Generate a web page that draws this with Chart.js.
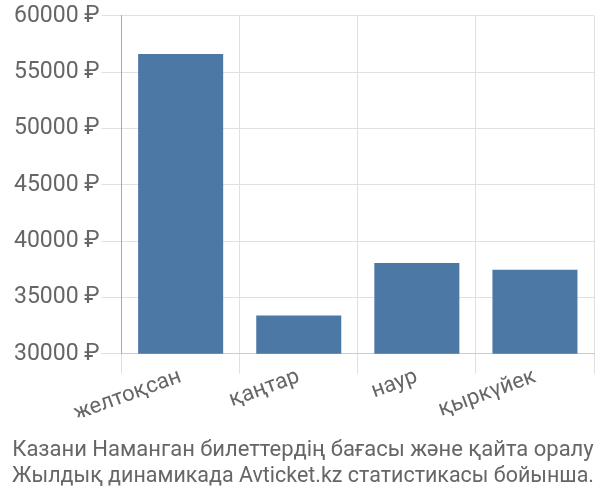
<!DOCTYPE html>
<html>
<head>
<meta charset="utf-8">
<script src="https://cdn.jsdelivr.net/npm/chart.js@4"></script>
<style>
  html, body { margin: 0; padding: 0; background: #fff; }
  #wrap { width: 600px; height: 500px; }
</style>
</head>
<body>
<div id="wrap"><canvas id="priceChart"></canvas></div>
<script>
  const months = ['желтоқсан', 'қаңтар', 'наур', 'қыркүйек'];
  const prices = [56600, 33400, 38050, 37450];
  const titleLines = [
    'Казани Наманган билеттердің бағасы және қайта оралу',
    'Жылдық динамикада Avticket.kz статистикасы бойынша.'
  ];

  const textColor = '#666';
  const gridColor = '#e0e0e0';
  Chart.defaults.font.family = "Roboto, 'Liberation Sans', sans-serif";
  Chart.defaults.font.size = 22;
  Chart.defaults.color = textColor;

  new Chart(document.getElementById('priceChart'), {
    type: 'bar',
    data: {
      labels: months,
      datasets: [{
        data: prices,
        backgroundColor: '#4c78a6',
        borderWidth: 0
      }]
    },
    options: {
      responsive: true,
      maintainAspectRatio: false,
      animation: false,
      layout: { padding: { left: 12, right: 6, top: 2, bottom: 0 } },
      plugins: {
        legend: { display: false },
        tooltip: { enabled: false },
        title: {
          display: true,
          position: 'bottom',
          text: titleLines,
          color: textColor,
          font: { size: 22, weight: 'normal' },
          lineHeight: 1.36,
          padding: { top: 20, bottom: 10 }
        }
      },
      scales: {
        x: {
          grid: { color: gridColor, offset: true, tickLength: 20 },
          border: { color: '#ccc' },
          ticks: { color: textColor, maxRotation: 20, minRotation: 20, padding: -10 }
        },
        y: {
          min: 30000,
          max: 60000,
          grid: { color: gridColor, tickLength: 20 },
          border: { color: '#aaa' },
          ticks: {
            stepSize: 5000,
            color: textColor,
            font: { size: 23 },
            padding: 2,
            callback: v => v + ' ₽'
          }
        }
      }
    }
  });
</script>
</body>
</html>
